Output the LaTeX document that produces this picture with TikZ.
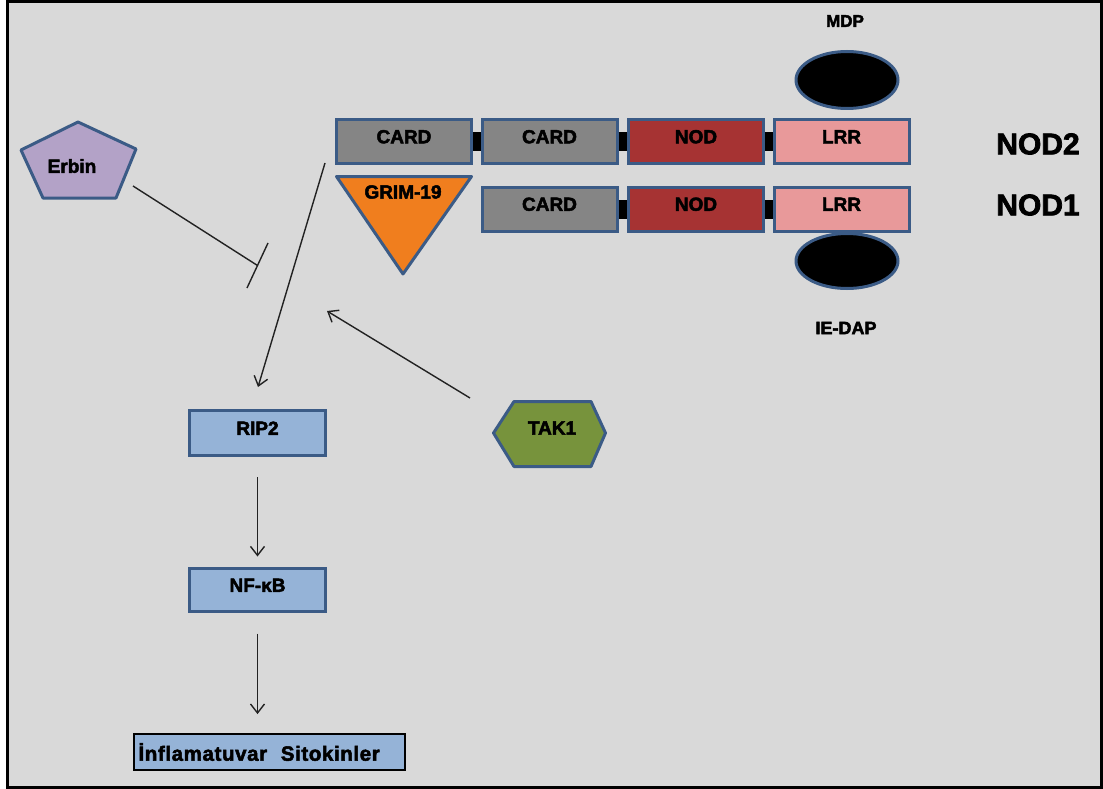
\documentclass[tikz,border=0pt]{standalone}
\usepackage{fontspec}
\setmainfont{Liberation Sans}[BoldFeatures={FakeBold=2.5}]
\usetikzlibrary{arrows.meta,shapes.geometric}
\definecolor{bg}{HTML}{D9D9D9}
\definecolor{bord}{HTML}{3B5B86}
\definecolor{cardg}{HTML}{858585}
\definecolor{nodr}{HTML}{A63333}
\definecolor{lrrp}{HTML}{E8999A}
\definecolor{lblue}{HTML}{95B3D7}
\definecolor{orng}{HTML}{F07E1E}
\definecolor{grn}{HTML}{77933C}
\definecolor{lav}{HTML}{B3A2C7}
\definecolor{ink}{HTML}{222222}
\begin{document}
\begin{tikzpicture}[x=1pt,y=-1pt,
  txt/.style={font=\bfseries\fontsize{19}{22}\selectfont, text=black, inner sep=0pt},
  dom/.style={draw=bord, line width=3pt, minimum width=135pt, minimum height=44pt,
    inner sep=0pt, text height=13pt, text depth=9.4pt, text=black,
    font=\bfseries\fontsize{19}{22}\selectfont},
  link/.style={line width=19pt, draw=black},
  shp/.style={draw=bord, line width=3pt, line join=round},
  lig/.style={ellipse, draw=bord, line width=3pt, fill=black, minimum width=102pt},
  arr/.style={draw=ink, line width=1.4pt, -{Straight Barb[length=9pt,width=14pt]}},
  inh/.style={draw=ink, line width=1.4pt},
  big/.style={font=\bfseries\fontsize{30}{34}\selectfont, text=black, inner sep=0pt}
]
\useasboundingbox (0,0) rectangle (1103,789);
\fill[white] (0,0) rectangle (1103,789);
\draw[line width=3pt, fill=bg] (7.5,1.5) rectangle (1101.5,787.5);

% ligands
\node[lig, minimum height=57pt] (mdp) at (847,80) {};
\node[lig, minimum height=55pt] (iedap) at (847,261) {};
\node[txt, font=\bfseries\fontsize{17}{20}\selectfont] (mdplbl) at (845,21) {MDP};
\node[txt, font=\bfseries\fontsize{18}{20}\selectfont] (iedaplbl) at (846,328) {IE-DAP};

% NOD2 row
\node[dom, fill=cardg] (c1) at (404,141.5) {CARD};
\node[dom, fill=cardg] (c2) at (549.5,141.5) {CARD};
\node[dom, fill=nodr] (n2) at (696,141.5) {NOD};
\node[dom, fill=lrrp] (l2) at (841.5,141.5) {LRR};
\draw[link] (c1.east) -- (c2.west);
\draw[link] (c2.east) -- (n2.west);
\draw[link] (n2.east) -- (l2.west);

% NOD1 row
\node[dom, fill=cardg] (c1b) at (549.5,209) {CARD};
\node[dom, fill=nodr] (n1) at (696,209) {NOD};
\node[dom, fill=lrrp] (l1) at (841.5,209) {LRR};
\draw[link] (c1b.east) -- (n1.west);
\draw[link] (n1.east) -- (l1.west);

\node[big] (nod2) at (1038,144) {NOD2};
\node[big] (nod1) at (1038,205) {NOD1};

% GRIM-19
\draw[shp, fill=orng] (336.5,176.5) -- (471.5,176.5) -- (403,274) -- cycle;
\node[txt] (grim) at (403,192) {GRIM-19};

% Erbin
\draw[shp, fill=lav] (78,122) -- (136,149) -- (116,198) -- (43,198) -- (21,150) -- cycle;
\node[txt] (erbin) at (72,166) {Erbin};

% TAK1
\draw[shp, fill=grn] (493.5,433) -- (514,401.5) -- (591,401.5) -- (605.5,433) -- (591,466.5) -- (514,466.5) -- cycle;
\node[txt] (tak1) at (552,428) {TAK1};

% pathway boxes
\node[dom, fill=lblue, minimum width=136pt, minimum height=45pt] (rip2) at (257.5,433) {RIP2};
\node[dom, fill=lblue, minimum width=136pt, minimum height=43pt] (nfkb) at (257.5,590) {NF-κB};
\node[draw=black, line width=1.8pt, fill=lblue, minimum width=271pt, minimum height=36pt,
  inner sep=0pt, text width=262pt, align=left, text=black,
  font=\bfseries\fontsize{20.5}{22}\selectfont] (sito) at (269.5,752) {\addfontfeatures{LetterSpace=3}İnflamatuvar\ \ Sitokinler};

% connectors
\coordinate (erbtail) at (133,186);
\coordinate (inhpt) at (257.5,265.5);
\coordinate (bar1) at (268,243);
\coordinate (bar2) at (247,288);
\draw[inh] (erbtail) -- (inhpt);
\draw[inh] (bar1) -- (bar2);

\coordinate (cardtail) at (325,163);
\coordinate (riptip) at (258,387);
\draw[arr] (cardtail) -- (riptip);

\coordinate (taktail) at (470,398);
\coordinate (taktip) at (327,311);
\draw[arr] (taktail) -- (taktip);

\draw[arr, shorten <=20pt, shorten >=10.5pt] (rip2.south) -- (nfkb.north);
\draw[arr, shorten <=20.5pt, shorten >=19pt] (nfkb.south) -- (nfkb.south |- sito.north);
\end{tikzpicture}
\end{document}
